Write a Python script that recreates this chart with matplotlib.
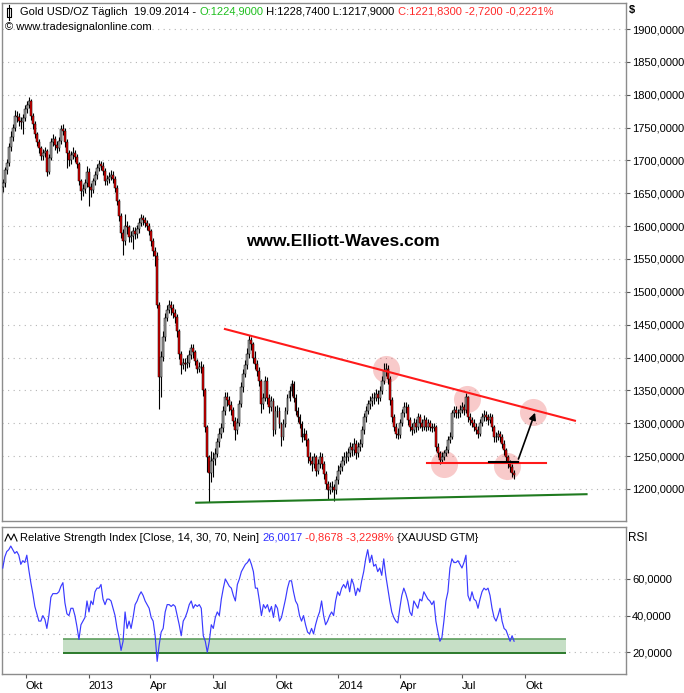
import matplotlib
import numpy as np
import pandas as pd

matplotlib.use("Agg")
import matplotlib.dates as mdates
import matplotlib.pyplot as plt
from matplotlib.lines import Line2D

plt.rcParams["font.family"] = ["Liberation Sans", "DejaVu Sans"]

# --- data (2-point spacing, roughly every 3 calendar days)
start_date, end_date = "2012-08-28", "2014-09-15"
first_open = 1660

close = [
    1665, 1685, 1696, 1720, 1736, 1750, 1768, 1766, 1760, 1758, 1765, 1778, 1785, 1790, 1767, 1755,
    1740, 1728, 1719, 1706, 1712, 1714, 1683, 1704, 1728, 1732, 1724, 1719, 1729, 1748, 1745, 1728,
    1712, 1700, 1708, 1712, 1705, 1694, 1668, 1653, 1656, 1665, 1683, 1660, 1655, 1668, 1678, 1688,
    1694, 1692, 1684, 1668, 1672, 1675, 1678, 1672, 1658, 1638, 1615, 1590, 1578, 1600, 1598, 1584,
    1585, 1592, 1588, 1596, 1605, 1612, 1609, 1605, 1600, 1592, 1578, 1562, 1555, 1480, 1370, 1401,
    1431, 1460, 1472, 1480, 1475, 1468, 1462, 1440, 1405, 1388, 1392, 1390, 1392, 1404, 1414, 1408,
    1394, 1383, 1386, 1386, 1350, 1294, 1248, 1225, 1243, 1246, 1253, 1271, 1284, 1292, 1318, 1340,
    1335, 1327, 1320, 1304, 1290, 1300, 1330, 1355, 1375, 1388, 1406, 1426, 1421, 1400, 1390, 1380,
    1365, 1329, 1339, 1365, 1339, 1324, 1334, 1289, 1319, 1319, 1299, 1279, 1299, 1319, 1339, 1349,
    1360, 1339, 1319, 1309, 1299, 1279, 1284, 1274, 1248, 1243, 1238, 1248, 1228, 1238, 1248, 1238,
    1223, 1208, 1198, 1203, 1203, 1198, 1213, 1228, 1233, 1243, 1248, 1248, 1254, 1264, 1259, 1269,
    1254, 1264, 1269, 1289, 1309, 1319, 1329, 1334, 1339, 1339, 1344, 1339, 1349, 1365, 1380, 1383,
    1368, 1335, 1310, 1295, 1284, 1282, 1300, 1315, 1325, 1325, 1305, 1295, 1290, 1300, 1295, 1310,
    1300, 1295, 1305, 1295, 1300, 1295, 1292, 1295, 1264, 1254, 1244, 1249, 1254, 1259, 1274, 1279,
    1315, 1320, 1315, 1315, 1320, 1325, 1320, 1340, 1310, 1305, 1300, 1295, 1290, 1284, 1300, 1310,
    1312, 1310, 1305, 1310, 1295, 1279, 1279, 1284, 1279, 1269, 1259, 1249, 1239, 1234, 1224, 1221,
]
high = [
    1672, 1690, 1702, 1726, 1745, 1756, 1776, 1775, 1772, 1766, 1770, 1784, 1790, 1796, 1794, 1772,
    1760, 1744, 1732, 1722, 1718, 1720, 1718, 1710, 1734, 1740, 1737, 1730, 1735, 1754, 1755, 1750,
    1732, 1716, 1714, 1720, 1716, 1710, 1698, 1672, 1664, 1672, 1692, 1688, 1666, 1674, 1684, 1694,
    1700, 1699, 1697, 1688, 1678, 1682, 1685, 1684, 1676, 1662, 1642, 1620, 1596, 1618, 1608, 1602,
    1592, 1598, 1598, 1602, 1612, 1618, 1617, 1614, 1610, 1604, 1596, 1582, 1568, 1560, 1484, 1410,
    1440, 1468, 1480, 1487, 1486, 1482, 1474, 1466, 1444, 1410, 1400, 1400, 1404, 1412, 1420, 1420,
    1412, 1398, 1393, 1394, 1390, 1354, 1298, 1252, 1258, 1256, 1262, 1278, 1292, 1300, 1326, 1348,
    1348, 1342, 1334, 1325, 1310, 1308, 1336, 1362, 1382, 1396, 1414, 1434, 1432, 1424, 1410, 1396,
    1385, 1368, 1346, 1372, 1370, 1344, 1342, 1338, 1326, 1328, 1324, 1302, 1306, 1325, 1345, 1356,
    1366, 1364, 1344, 1324, 1314, 1303, 1292, 1290, 1278, 1256, 1250, 1255, 1252, 1245, 1256, 1254,
    1242, 1228, 1212, 1210, 1212, 1208, 1220, 1236, 1240, 1250, 1256, 1258, 1262, 1272, 1270, 1278,
    1274, 1272, 1276, 1296, 1316, 1326, 1336, 1342, 1346, 1348, 1352, 1350, 1356, 1372, 1392, 1392,
    1388, 1372, 1340, 1314, 1300, 1292, 1306, 1322, 1332, 1332, 1330, 1310, 1300, 1308, 1306, 1316,
    1314, 1306, 1312, 1310, 1306, 1305, 1300, 1300, 1298, 1270, 1258, 1256, 1260, 1266, 1280, 1286,
    1320, 1326, 1326, 1322, 1327, 1332, 1330, 1346, 1342, 1316, 1310, 1306, 1300, 1296, 1306, 1316,
    1320, 1318, 1314, 1316, 1314, 1298, 1286, 1290, 1288, 1284, 1274, 1262, 1252, 1244, 1238, 1229,
]
low = [
    1652, 1660, 1680, 1692, 1715, 1730, 1745, 1758, 1752, 1748, 1740, 1760, 1772, 1780, 1762, 1748,
    1734, 1722, 1712, 1700, 1700, 1705, 1677, 1680, 1700, 1722, 1716, 1712, 1714, 1725, 1738, 1720,
    1688, 1692, 1695, 1702, 1698, 1688, 1662, 1640, 1646, 1650, 1660, 1630, 1645, 1650, 1662, 1672,
    1684, 1685, 1678, 1662, 1662, 1666, 1670, 1666, 1652, 1632, 1608, 1582, 1556, 1572, 1588, 1576,
    1576, 1565, 1580, 1582, 1590, 1600, 1602, 1598, 1594, 1586, 1570, 1555, 1540, 1475, 1321, 1340,
    1395, 1425, 1455, 1468, 1465, 1460, 1452, 1432, 1398, 1375, 1382, 1380, 1384, 1386, 1398, 1400,
    1388, 1376, 1378, 1376, 1342, 1286, 1226, 1180, 1210, 1218, 1236, 1248, 1264, 1278, 1286, 1312,
    1326, 1318, 1312, 1296, 1274, 1284, 1296, 1325, 1348, 1370, 1382, 1400, 1412, 1392, 1382, 1372,
    1356, 1315, 1322, 1334, 1330, 1316, 1318, 1280, 1284, 1310, 1292, 1266, 1274, 1294, 1314, 1334,
    1342, 1332, 1312, 1302, 1292, 1272, 1274, 1266, 1240, 1236, 1228, 1232, 1220, 1222, 1232, 1230,
    1215, 1200, 1185, 1192, 1195, 1182, 1192, 1208, 1222, 1228, 1236, 1240, 1242, 1248, 1250, 1252,
    1246, 1248, 1258, 1264, 1284, 1302, 1314, 1322, 1326, 1330, 1334, 1330, 1334, 1344, 1360, 1372,
    1360, 1328, 1302, 1288, 1277, 1276, 1278, 1296, 1310, 1316, 1298, 1288, 1282, 1285, 1286, 1290,
    1292, 1288, 1290, 1288, 1290, 1288, 1286, 1288, 1258, 1248, 1238, 1240, 1244, 1250, 1255, 1270,
    1276, 1310, 1308, 1308, 1310, 1316, 1312, 1316, 1302, 1298, 1294, 1288, 1284, 1278, 1280, 1296,
    1304, 1304, 1298, 1300, 1288, 1272, 1272, 1274, 1272, 1262, 1252, 1242, 1232, 1226, 1218, 1215,
]
rsi = [
    66, 72, 75, 76, 78, 76, 74, 75, 73, 68, 70, 69, 73, 65, 58, 52,
    45, 41, 37, 37, 40, 38, 33, 40, 50, 52, 52, 52, 53, 56, 58, 47,
    41, 40, 44, 44, 40, 34, 27, 35, 37, 39, 48, 42, 48, 46, 53, 55,
    55, 57, 49, 46, 49, 49, 48, 44, 40, 33, 28, 21, 26, 42, 33, 37,
    33, 39, 46, 48, 51, 53, 51, 48, 46, 44, 39, 37, 29, 15, 24, 31,
    33, 42, 46, 46, 45, 46, 45, 40, 35, 29, 37, 39, 42, 46, 48, 44,
    46, 45, 46, 44, 29, 26, 20, 26, 35, 33, 39, 42, 40, 49, 55, 60,
    58, 56, 55, 51, 48, 57, 60, 64, 66, 68, 69, 71, 68, 64, 55, 55,
    48, 40, 46, 44, 46, 42, 45, 39, 46, 44, 37, 39, 44, 49, 55, 59,
    59, 53, 48, 46, 40, 37, 40, 35, 31, 30, 33, 30, 35, 39, 42, 48,
    40, 35, 37, 40, 42, 40, 48, 53, 51, 55, 57, 55, 59, 53, 60, 57,
    51, 55, 53, 59, 64, 71, 76, 69, 73, 67, 68, 64, 66, 62, 71, 62,
    55, 48, 42, 39, 37, 36, 44, 51, 55, 52, 48, 42, 40, 48, 46, 44,
    49, 48, 53, 51, 49, 48, 46, 48, 37, 31, 26, 28, 37, 48, 53, 66,
    71, 69, 69, 70, 68, 66, 69, 73, 51, 48, 53, 49, 48, 44, 49, 53,
    55, 54, 55, 51, 44, 39, 37, 40, 44, 37, 33, 32, 29, 26, 29, 26,
]

# drawn analysis (trend lines, circles, target arrow)
resistance = [("2013-07-19", 1443.4), ("2014-12-13", 1303.8)]
neckline = [("2014-05-10", 1239), ("2014-10-31", 1239)]
base_line = [("2014-08-10", 1241.5), ("2014-09-20", 1241.5)]
target_arrow = [("2014-09-20", 1241.5), ("2014-10-17", 1320)]
support = [("2013-06-07", 1179), ("2014-12-30", 1192)]
circle_dates = ["2014-03-11", "2014-07-08", "2014-10-13", "2014-06-04", "2014-09-04"]
circle_prices = [1382, 1337, 1317, 1238, 1235]
rsi_zone = ("2012-11-24", "2014-11-30", 19.5, 27.2)

price_ticks = list(range(1200, 1901, 50))
rsi_ticks = [20, 40, 60]
x_tick_dates = ["2012-10-01", "2013-01-01", "2013-04-01", "2013-07-01", "2013-10-01",
                "2014-01-01", "2014-04-01", "2014-07-01", "2014-10-01"]
x_tick_labels = ["Okt", "2013", "Apr", "Jul", "Okt", "2014", "Apr", "Jul", "Okt"]

W, H = 684, 693
GRID = dict(color="#b4b4b4", lw=0.8, ls=(0, (1, 4)))
SPINE = "#8c8c8c"


def num(d):
    return mdates.date2num(pd.Timestamp(d))


def line_xy(pts):
    return [num(d) for d, _ in pts], [v for _, v in pts]


def comma(v, _=None):
    return f"{v:.4f}".replace(".", ",")


def chain_text(fig, host, x_px, y_px, parts, size):
    prev = None
    for s, c in parts:
        if prev is None:
            prev = host.text(x_px / W, 1 - y_px / H, s, color=c, fontsize=size, ha="left",
                             va="bottom", transform=fig.transFigure, zorder=10)
        else:
            prev = host.annotate(s, xy=(1, 0), xycoords=prev, color=c, fontsize=size,
                                 ha="left", va="bottom", annotation_clip=False, zorder=10)
    return prev


dates = pd.date_range(start_date, end_date, periods=len(close))
x = mdates.date2num(dates)
opens = np.array([first_open] + close[:-1], dtype=float)
closes = np.array(close, dtype=float)

fig = plt.figure(figsize=(W / 100, H / 100), dpi=100)
ax = fig.add_axes([2 / W, 1 - 521 / H, 624 / W, 518 / H])
ax2 = fig.add_axes([2 / W, 1 - 674 / H, 624 / W, 147 / H], sharex=ax)

d0 = num("2012-10-01")
ax.set_xlim(d0 - 35.1, d0 + 877.7)
ax.set_ylim(1151.2, 1939.6)
ax2.set_ylim(8.1, 88.4)

# --- price panel
for v in price_ticks:
    ax.axhline(v, zorder=0, **GRID)

ax.scatter([num(d) for d in circle_dates], circle_prices, s=380, color="#e85050", alpha=0.3,
           lw=0, zorder=1)

down = closes < opens
body_col = np.where(down, "#e00000", "#a0a0a0")
ax.vlines(x, low, high, color="black", lw=0.8, zorder=2)
ax.bar(x, closes - opens, bottom=opens, width=2.8, color=body_col, edgecolor="black",
       lw=0.35, zorder=3)

ax.plot(*line_xy(resistance), color="#ff1a1a", lw=1.5, zorder=4)
ax.plot(*line_xy(neckline), color="#ff1a1a", lw=1.5, zorder=4)
ax.plot(*line_xy(base_line), color="black", lw=1.5, zorder=5)
ax.plot(*line_xy(support), color="#1f7a1f", lw=1.5, zorder=4)
ax_, ay_ = line_xy(target_arrow)
ax.annotate("", xy=(ax_[1], ay_[1]), xytext=(ax_[0], ay_[0]),
            arrowprops=dict(arrowstyle="-|>", color="black", lw=1.2, mutation_scale=10), zorder=5)

ax.text(343 / W, 1 - 242 / H, "www.Elliott-Waves.com", transform=fig.transFigure,
        fontsize=12.5, fontweight="bold", ha="center", va="center")

ax.yaxis.tick_right()
ax.set_yticks(price_ticks)
ax.yaxis.set_major_formatter(plt.FuncFormatter(comma))
ax.tick_params(axis="y", direction="out", length=3, width=0.8, pad=1.5, labelsize=8,
               color="#555555")
ax.tick_params(axis="x", bottom=False, labelbottom=False)

# --- RSI panel
for v in rsi_ticks:
    ax2.axhline(v, zorder=0, **GRID)
ax2.hlines([30, 70], x[0], x[-1] + 3, zorder=0, **GRID)
z0, z1, zlo, zhi = rsi_zone
ax2.fill_between([num(z0), num(z1)], zlo, zhi, color="#c6dfc6", lw=0, zorder=1)
ax2.hlines(zhi, num(z0), num(z1), color="#5d9e5d", lw=1.2, zorder=2)
ax2.hlines(zlo, num(z0), num(z1), color="#2b7a2b", lw=1.4, zorder=2)
ax2.plot(x, rsi, color="#3a3aff", lw=0.85, zorder=3)

ax2.yaxis.tick_right()
ax2.set_yticks(rsi_ticks)
ax2.yaxis.set_major_formatter(plt.FuncFormatter(comma))
ax2.tick_params(axis="y", direction="out", length=3, width=0.8, pad=1.5, labelsize=8,
                color="#555555")

ax2.set_xticks([num(d) for d in x_tick_dates])
ax2.set_xticklabels(x_tick_labels, ha="left")
ax2.tick_params(axis="x", direction="out", length=3, width=0.8, pad=2, labelsize=8,
                color="#555555")

for a in (ax, ax2):
    for sp in a.spines.values():
        sp.set_color(SPINE)
        sp.set_linewidth(1.0)

# --- header texts
chain_text(fig, ax, 20, 17, [("Gold USD/OZ Täglich  19.09.2014 - ", "black"),
                             ("O:1224,9000", "#1fbf1f"),
                             (" H:1228,7400 L:1217,9000 ", "black"),
                             ("C:1221,8300 -2,7200 -0,2221%", "#ff2a2a")], 8)
fig.text(5 / W, 1 - 32 / H, "© www.tradesignalonline.com", fontsize=8, ha="left", va="bottom")
chain_text(fig, ax2, 20, 543, [("Relative Strength Index [Close, 14, 30, 70, Nein] ", "black"),
                               ("26,0017", "#3030ff"),
                               (" -0,8678 -3,2298%", "#ff2a2a"),
                               (" {XAUUSD GTM}", "black")], 8)
fig.text(629 / W, 1 - 10 / H, "$", fontsize=8, fontweight="bold", ha="left", va="center")
fig.text(628 / W, 1 - 538 / H, "RSI", fontsize=8.5, ha="left", va="center")

# small icons in front of the headers
px = lambda xs, ys: ([v / W for v in xs], [1 - v / H for v in ys])
fig.add_artist(Line2D(*px([8.5, 8.5], [5, 20]), color="black", lw=0.8))
fig.add_artist(Line2D(*px([6.5, 10.5, 10.5, 6.5, 6.5], [8, 8, 17, 17, 8]), color="black", lw=0.8))
fig.add_artist(Line2D(*px([5, 8, 11, 14, 17], [541, 534, 540, 534, 541]), color="black", lw=0.8))

fig.savefig("out.png", dpi=100)
